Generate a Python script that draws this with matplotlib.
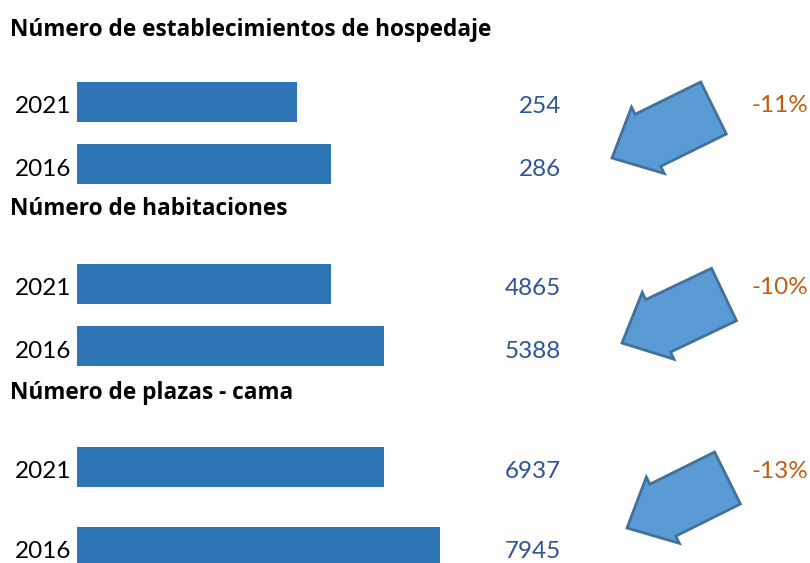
import matplotlib.pyplot as plt
from matplotlib.patches import FancyArrow

# data
titles = ["Número de establecimientos de hospedaje", "Número de habitaciones", "Número de plazas - cama"]
years = ["2021", "2016"]
vals_2021 = [254, 4865, 6937]
vals_2016 = [286, 5388, 7945]
changes = ["-11%", "-10%", "-13%"]

W, H = 810, 563
bar_color = "#2E75B6"
val_color = "#2F5597"
pct_color = "#C55A11"
font = "Lato"

fig = plt.figure(figsize=(W / 100, H / 100), dpi=100)

# layout per group in pixels (top-down)
title_y = [30, 209, 393]
bar_y = [(101.5, 164), (283.5, 346), (467, 546.5)]
# axis start / pixels per unit (each chart has its own scale, like the original)
x_start = [47, 2359, 1411]
px_per_unit = [1.0625, 0.10134, 0.05556]
bar_left_px = 77

for i in range(3):
    ax = fig.add_axes([bar_left_px / W, 0, 1 - bar_left_px / W, 1])
    ax.set_xlim(x_start[i], x_start[i] + (W - bar_left_px) / px_per_unit[i])
    ax.set_ylim(H, 0)
    vals = [vals_2021[i], vals_2016[i]]
    ax.barh(list(bar_y[i]), vals, height=40, color=bar_color)
    ax.axis("off")
    ax.patch.set_alpha(0)

ov = fig.add_axes([0, 0, 1, 1])
ov.set_xlim(0, W)
ov.set_ylim(H, 0)
ov.axis("off")
ov.patch.set_alpha(0)

arrows = [((713.5, 108), (612, 158)), ((724, 294.5), (622, 343)), ((727.5, 478), (627, 528))]

for i in range(3):
    ov.text(10, title_y[i], titles[i], fontsize=16.3, fontweight="bold", family="Open Sans",
            ha="left", va="center", color="black")
    vals = [vals_2021[i], vals_2016[i]]
    for j in range(2):
        yc = bar_y[i][j] + 5
        ov.text(71, yc, years[j], fontsize=17.5, family=font, ha="right", va="center")
        ov.text(561, yc, str(vals[j]), fontsize=17.5, family=font, ha="right", va="center",
                color=val_color)
    ov.text(808, bar_y[i][0] + 4, changes[i], fontsize=17.5, family=font, ha="right",
            va="center", color=pct_color)
    (tx, ty), (hx, hy) = arrows[i]
    ov.add_patch(FancyArrow(tx, ty, hx - tx, hy - ty, width=58, head_width=74,
                            head_length=40, length_includes_head=True,
                            facecolor="#5B9BD5", edgecolor="#41719C", linewidth=2))

fig.savefig("out.png", dpi=100)
